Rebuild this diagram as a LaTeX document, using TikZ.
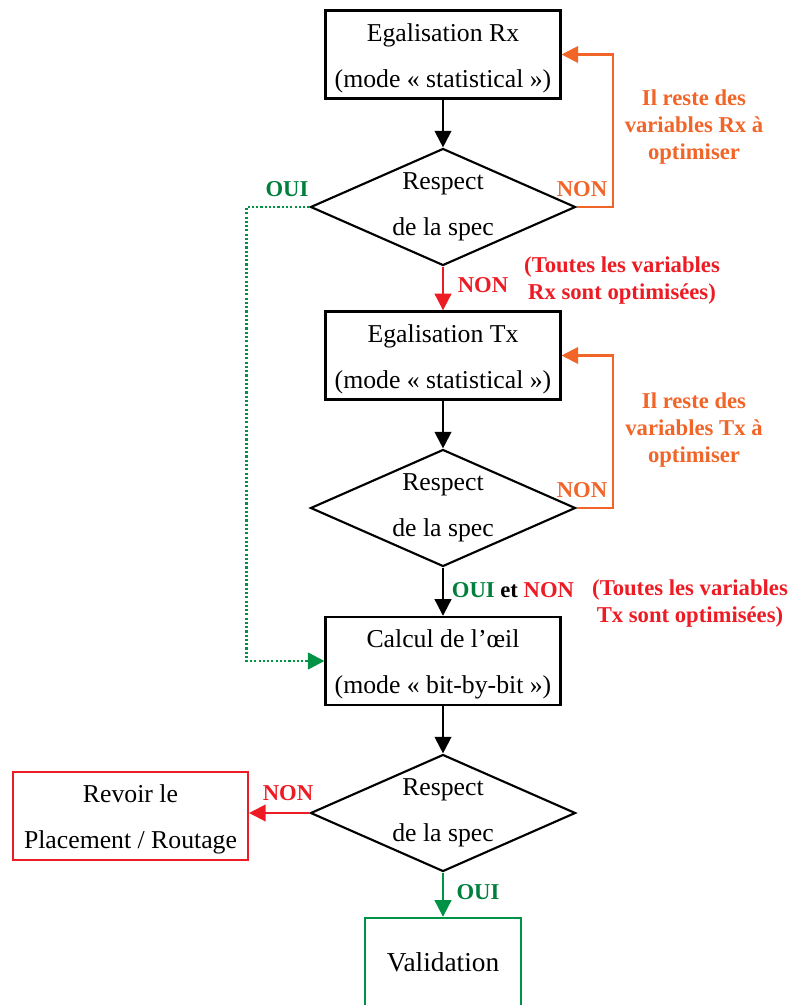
\documentclass[tikz,border=0pt]{standalone}
\usepackage{fontspec}
\setmainfont{Liberation Serif}
\usepackage{xcolor}
\usetikzlibrary{shapes.geometric, arrows.meta}
\definecolor{orangeboucle}{RGB}{241,101,41}
\definecolor{rougenon}{RGB}{237,28,36}
\definecolor{vertoui}{RGB}{0,146,69}
\definecolor{vertlabel}{RGB}{0,128,60}
\newcommand{\montee}{\rule{0pt}{19pt}}

\begin{document}
\begin{tikzpicture}[x=0.75pt, y=-0.75pt,
    boite/.style={draw, line width=1.8pt, align=center, inner sep=0pt,
      minimum width=176pt, minimum height=66pt, font=\fontsize{19.3}{34.5}\selectfont},
    test/.style={draw, diamond, aspect=2.26, line width=1.6pt, align=center, inner sep=0pt,
      minimum width=198.75pt, minimum height=87.75pt, font=\fontsize{19.3}{34.5}\selectfont},
    fleche/.style={line width=1.6pt, -{Triangle[length=12.5pt, width=12.5pt]}},
    pointille/.style={line width=2pt, dash pattern=on 1.6pt off 1.6pt},
    etiq/.style={font=\fontsize{17}{20.25}\selectfont\bfseries, align=center, inner sep=0pt}]
  \useasboundingbox (0,0) rectangle (793,1005);
  \clip (0,0) rectangle (793,1005);

  % Egalisation Rx
  \node[boite] (egalrx) at (443,54.5) {\montee Egalisation Rx\\(mode « statistical »)};
  \node[test] (specrx) at (443,207) {Respect\\de la spec};
  \draw[fleche] (egalrx) -- (specrx);
  \draw[fleche, orangeboucle] (specrx.east) -- ++(36,0) |- (egalrx.east);
  \node[etiq, text=orangeboucle] (nonrx) at (582,189) {NON};
  \node[etiq, text=orangeboucle] (resterx) at (694,127.5) {Il reste des\\variables Rx à\\optimiser};
  \node[etiq, text=vertlabel] (ouirx) at (287,189) {OUI};

  % Egalisation Tx
  \node[boite] (egaltx) at (443,355.5) {\montee Egalisation Tx\\(mode « statistical »)};
  \draw[fleche, rougenon] (specrx) -- (egaltx);
  \node[etiq, text=rougenon] (nonrxbas) at (483,285) {NON};
  \node[etiq, text=rougenon] (toutesrx) at (622,281) {(Toutes les variables\\Rx sont optimisées)};
  \node[test] (spectx) at (443,508) {Respect\\de la spec};
  \draw[fleche] (egaltx) -- (spectx);
  \draw[fleche, orangeboucle] (spectx.east) -- ++(36,0) |- (egaltx.east);
  \node[etiq, text=orangeboucle] (nontx) at (582,490) {NON};
  \node[etiq, text=orangeboucle] (restetx) at (694,430) {Il reste des\\variables Tx à\\optimiser};

  % Calcul de l'oeil
  \node[boite] (calcul) at (443,661) {\montee Calcul de l’œil\\(mode « bit-by-bit »)};
  \draw[fleche] (spectx) -- (calcul);
  \node[etiq] (ouietnon) at (513,590) {\textcolor{vertlabel}{OUI} et \textcolor{rougenon}{NON}};
  \node[etiq, text=rougenon] (toutestx) at (690,603.5) {(Toutes les variables\\Tx sont optimisées)};
  \draw[fleche, vertoui, pointille] (specrx.west) -- ++(-63,0) |- (calcul.west);

  % Respect final
  \node[test] (specfin) at (443,813) {Respect\\de la spec};
  \draw[fleche] (calcul) -- (specfin);
  \node[boite, draw=rougenon] (revoir) at (130.5,816) {\montee Revoir le\\Placement / Routage};
  \draw[fleche, rougenon] (specfin) -- (specfin -| revoir.east);
  \node[etiq, text=rougenon] (nonfin) at (288,793) {NON};
  \node[boite, draw=vertoui, minimum width=117pt, font=\fontsize{20.5}{34.5}\selectfont] (valid) at (443,962) {Validation};
  \draw[fleche, vertoui] (specfin) -- (valid);
  \node[etiq, text=vertlabel] (ouifin) at (478,892) {OUI};
\end{tikzpicture}
\end{document}
